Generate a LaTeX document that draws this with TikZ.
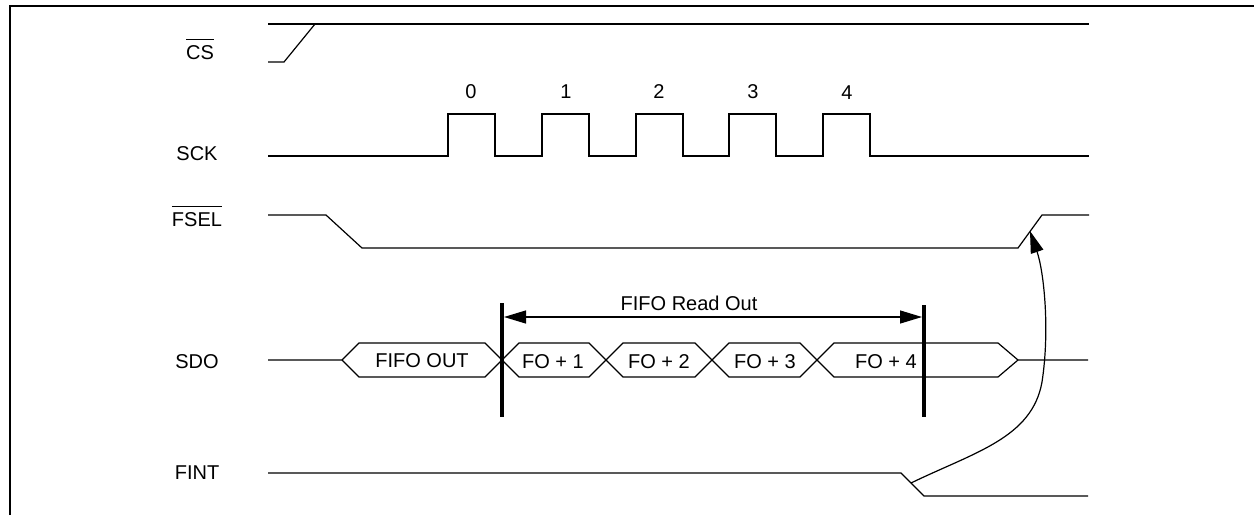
\documentclass[tikz,border=0pt]{standalone}
\usepackage{fontspec}
\setmainfont{Liberation Sans}
\usetikzlibrary{arrows.meta}
\newcommand\ovbar[1]{\setbox0\hbox{#1}\rlap{\rule[\dimexpr\ht0+5pt\relax]{\wd0}{1.3pt}}\box0}
\tikzset{
  sig/.style={line width=1.2pt, line join=miter},
  frame/.style={line width=2pt},
  marker/.style={line width=3.2pt},
  lbl/.style={inner sep=0pt, font=\fontsize{20}{23}\selectfont},
  tip/.style={-{Triangle[length=22pt,width=13pt]}, line width=1.2pt}
}
\begin{document}
\begin{tikzpicture}[x=1pt,y=-1pt]
\useasboundingbox (0,0) rectangle (1254,515);
% frame
\draw[frame] (10,515) -- (10,6) -- (1254,6);
% signal names
\node[lbl, anchor=base] (ncs)   at (200,59)  {\ovbar{CS}};
\node[lbl, anchor=base] (nsck)  at (197,160) {SCK};
\node[lbl, anchor=base] (nfsel) at (197,226) {\ovbar{FSEL}};
\node[lbl, anchor=base] (nsdo)  at (197,368) {SDO};
\node[lbl, anchor=base] (nfint) at (197,479) {FINT};
% CS
\draw[sig] (268,24) -- (1089,24);
\draw[sig] (268,62) -- (284,62) -- (315,24);
% SCK
\draw[sig] (268,156) -- (448,156) -- (448,114) -- (495,114) -- (495,156)
  -- (542,156) -- (542,114) -- (589,114) -- (589,156)
  -- (636,156) -- (636,114) -- (683,114) -- (683,156)
  -- (729,156) -- (729,114) -- (776,114) -- (776,156)
  -- (823,156) -- (823,114) -- (870,114) -- (870,156) -- (1089,156);
\node[lbl] (c0) at (471,92) {0};
\node[lbl] (c1) at (566,92) {1};
\node[lbl] (c2) at (659,92) {2};
\node[lbl] (c3) at (753,92) {3};
\node[lbl] (c4) at (847,93) {4};
% FSEL
\draw[sig] (268,215) -- (326,215) -- (362,248) -- (1018,248) -- (1042,215) -- (1089,215);
\coordinate (fselrise) at (1030,231);
% SDO
\draw[sig] (268,360) -- (342,360) -- (359,343) -- (485,343) -- (519,377) -- (589,377)
  -- (623,343) -- (695,343) -- (729,377) -- (800,377) -- (834,343) -- (998,343)
  -- (1018,360) -- (1088,360);
\draw[sig] (342,360) -- (359,377) -- (485,377) -- (519,343) -- (589,343)
  -- (623,377) -- (695,377) -- (729,343) -- (800,343) -- (834,377) -- (998,377)
  -- (1018,360);
\node[lbl] (d0) at (422,361) {FIFO OUT};
\node[lbl] (d1) at (553,362) {FO + 1};
\node[lbl] (d2) at (659,362) {FO + 2};
\node[lbl] (d3) at (765,362) {FO + 3};
\node[lbl] (d4) at (886,362) {FO + 4};
% read-out markers
\coordinate (m1t) at (502,303);
\coordinate (m1b) at (502,417);
\coordinate (m2t) at (924,305);
\coordinate (m2b) at (924,417);
\draw[marker] (m1t) -- (m1b);
\draw[marker] (m2t) -- (m2b);
\coordinate (a1) at (504,317);
\coordinate (a2) at (922,317);
\draw[{Triangle[length=22pt,width=13pt]}-{Triangle[length=22pt,width=13pt]}, line width=1.2pt] (a1) -- (a2);
\node[lbl] (ro) at (689,303) {FIFO Read Out};
% FINT
\draw[sig] (268,473) -- (901,473) -- (924,496) -- (1088,496);
\coordinate (fintfall) at (911,483);
% causal arrow
\draw[tip] (fintfall) .. controls (975,452) and (1032,438) .. (1042,382)
  .. controls (1050,330) and (1044,272) .. (fselrise);
\end{tikzpicture}
\end{document}
